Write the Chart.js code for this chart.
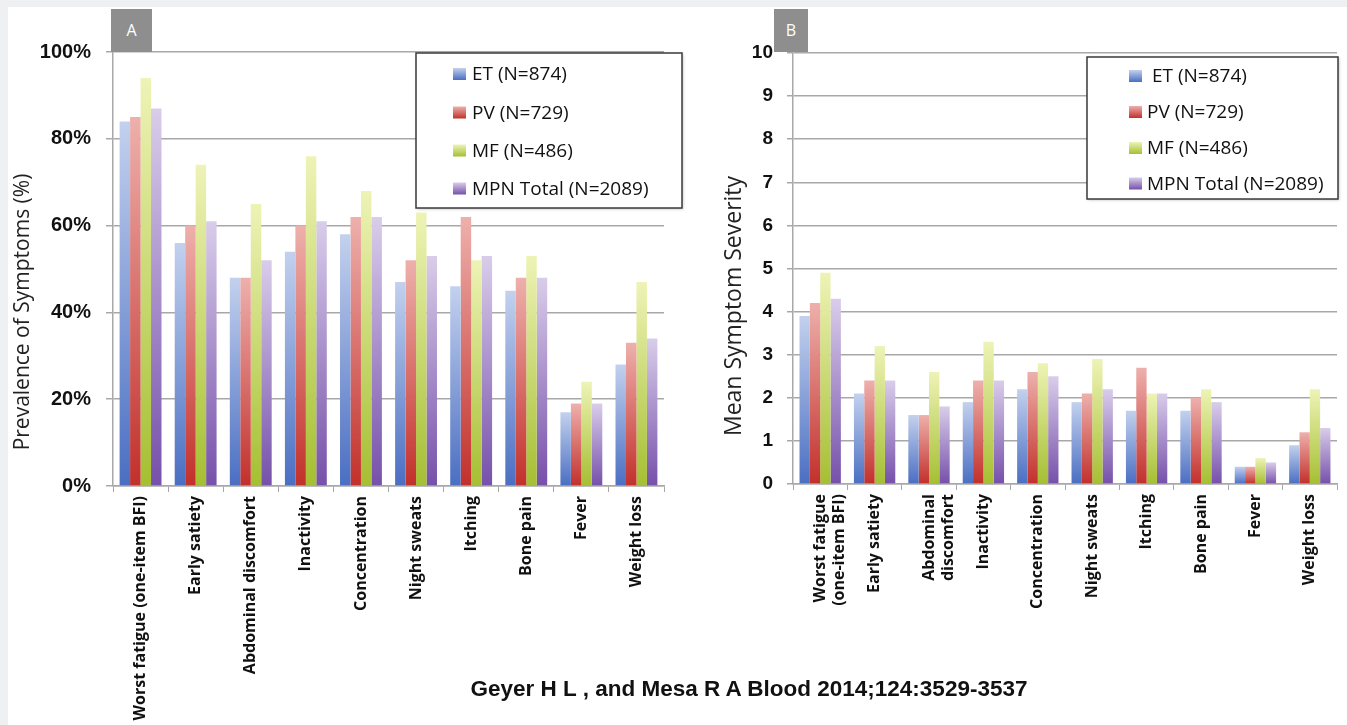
<!DOCTYPE html>
<html>
<head>
<meta charset="utf-8">
<script src="https://cdn.jsdelivr.net/npm/chart.js@4.4.0/dist/chart.umd.min.js"></script>
<style>
  html, body { margin: 0; padding: 0; width: 1347px; height: 725px; overflow: hidden; background: #eef0f2; }
  #sheet { position: absolute; left: 8px; top: 7px; right: 0; bottom: 0; background: #ffffff; }
  canvas { position: absolute; top: 0; }
  #chartA { left: 0; }
  #chartB { left: 700px; }
  .tag { position: absolute; top: 9px; height: 43px; background: #8e8e8e; color: #fff;
         font: 16px "Open Sans", sans-serif; text-align: center; line-height: 42px; }
  #tagA { left: 111px; width: 41px; }
  #tagB { left: 774px; width: 34px; }
  #caption { position: absolute; left: 0; width: 1498px; top: 676px; text-align: center;
             font: bold 22.5px "Liberation Sans", Arial, sans-serif; color: #111; }
</style>
</head>
<body>
<div id="sheet"></div>
<canvas id="chartA" width="700" height="725"></canvas>
<canvas id="chartB" width="647" height="725"></canvas>
<div class="tag" id="tagA">A</div>
<div class="tag" id="tagB">B</div>
<div id="caption">Geyer H L , and Mesa R A Blood 2014;124:3529-3537</div>

<script>
// Symptom categories (panel A single-line, panel B wrapped)
const categoriesA = ['Worst fatigue (one-item BFI)', 'Early satiety', 'Abdominal discomfort', 'Inactivity',
  'Concentration', 'Night sweats', 'Itching', 'Bone pain', 'Fever', 'Weight loss'];
const categoriesB = [['Worst fatigue', '(one-item BFI)'], 'Early satiety', ['Abdominal', 'discomfort'], 'Inactivity',
  'Concentration', 'Night sweats', 'Itching', 'Bone pain', 'Fever', 'Weight loss'];

// Patient groups
const groupsA = ['ET (N=874)', 'PV (N=729)', 'MF (N=486)', 'MPN Total (N=2089)'];
const groupsB = [' ET (N=874)', 'PV (N=729)', 'MF (N=486)', 'MPN Total (N=2089)'];

// Panel A: prevalence of symptoms (%)
const prevalenceET  = [84, 56, 48, 54, 58, 47, 46, 45, 17, 28];
const prevalencePV  = [85, 60, 48, 60, 62, 52, 62, 48, 19, 33];
const prevalenceMF  = [94, 74, 65, 76, 68, 63, 52, 53, 24, 47];
const prevalenceMPN = [87, 61, 52, 61, 62, 53, 53, 48, 19, 34];

// Panel B: mean symptom severity (0-10)
const severityET  = [3.9, 2.1, 1.6, 1.9, 2.2, 1.9, 1.7, 1.7, 0.4, 0.9];
const severityPV  = [4.2, 2.4, 1.6, 2.4, 2.6, 2.1, 2.7, 2.0, 0.4, 1.2];
const severityMF  = [4.9, 3.2, 2.6, 3.3, 2.8, 2.9, 2.1, 2.2, 0.6, 2.2];
const severityMPN = [4.3, 2.4, 1.8, 2.4, 2.5, 2.2, 2.1, 1.9, 0.5, 1.3];

// Axis ticks
const prevalenceTicks = [0, 20, 40, 60, 80, 100];
const severityTicks = [0, 1, 2, 3, 4, 5, 6, 7, 8, 9, 10];

// Bar shading: light at the top of each bar, saturated at its base
const shades = [
  { top: '#c3d1ee', bottom: '#4a6ec2', key: '#6d8dd2' },
  { top: '#eeb0ac', bottom: '#c2302b', key: '#d2504b' },
  { top: '#eef3b6', bottom: '#a5bf32', key: '#c3d85a' },
  { top: '#d9cdea', bottom: '#7650aa', key: '#9378c2' }
];

function shadedFill(i) {
  return (ctx) => {
    const chart = ctx.chart;
    const s = shades[i];
    if (!chart.chartArea || !ctx.parsed) return s.key;
    const y = chart.scales.y;
    const top = y.getPixelForValue(ctx.parsed.y);
    const base = y.getPixelForValue(0);
    if (!isFinite(top) || Math.abs(base - top) < 1) return s.key;
    const g = chart.ctx.createLinearGradient(0, top, 0, base);
    g.addColorStop(0, s.top);
    g.addColorStop(1, s.bottom);
    return g;
  };
}

function makeDatasets(names, series) {
  return series.map((data, i) => ({
    label: names[i],
    data: data,
    backgroundColor: shadedFill(i),
    borderWidth: 0,
    categoryPercentage: 0.76,
    barPercentage: 1.0
  }));
}

// Boxed legend and rotated axis title drawn on top of the plot
const panelDecor = {
  id: 'panelDecor',
  afterDraw(chart, args, opts) {
    const c = chart.ctx;
    c.save();
    // axis title
    c.fillStyle = '#222';
    c.font = opts.titleFont;
    c.textAlign = 'center';
    c.textBaseline = 'middle';
    c.translate(opts.titleX, opts.titleY);
    c.rotate(-Math.PI / 2);
    c.fillText(opts.title, 0, 0);
    c.restore();

    // legend box
    const b = opts.box;
    c.save();
    c.shadowColor = 'rgba(0,0,0,0.25)';
    c.shadowBlur = 3;
    c.shadowOffsetX = 1;
    c.shadowOffsetY = 1;
    c.fillStyle = '#fff';
    c.fillRect(b.x, b.y, b.w, b.h);
    c.restore();
    c.save();
    c.strokeStyle = '#3a3a3a';
    c.lineWidth = 1.5;
    c.strokeRect(b.x, b.y, b.w, b.h);
    c.font = opts.legendFont;
    c.textAlign = 'left';
    c.textBaseline = 'middle';
    chart.data.datasets.forEach((ds, i) => {
      const yc = opts.rows[i];
      const s = shades[i];
      const g = c.createLinearGradient(0, yc - opts.sq / 2, 0, yc + opts.sq / 2);
      g.addColorStop(0, s.top);
      g.addColorStop(1, s.bottom);
      c.fillStyle = g;
      c.fillRect(opts.sqX, yc - opts.sq / 2, opts.sqW, opts.sq);
      c.fillStyle = '#111';
      c.fillText(ds.label, opts.textX, yc + 1);
    });
    c.restore();
  }
};

function makeChart(canvasId, cfg) {
  return new Chart(document.getElementById(canvasId), {
    type: 'bar',
    data: { labels: cfg.labels, datasets: makeDatasets(cfg.names, cfg.series) },
    plugins: [panelDecor],
    options: {
      responsive: false,
      devicePixelRatio: 1,
      animation: false,
      layout: { padding: cfg.padding },
      plugins: {
        legend: { display: false },
        tooltip: { enabled: false },
        panelDecor: cfg.decor
      },
      scales: {
        x: {
          grid: { display: true, drawOnChartArea: false, drawTicks: true, tickLength: 6, color: '#a8a8a8', offset: true },
          border: { display: true, color: '#a8a8a8', width: 1.5 },
          ticks: {
            minRotation: 90, maxRotation: 90, autoSkip: false, padding: 4,
            color: '#111',
            font: { family: 'Open Sans', weight: 'bold', size: 16, lineHeight: 1.2 }
          },
          afterFit(scale) { scale.height = cfg.xHeight; }
        },
        y: {
          min: cfg.min, max: cfg.max,
          afterBuildTicks(scale) { scale.ticks = cfg.ticks.map(v => ({ value: v })); },
          grid: { color: '#a8a8a8', lineWidth: 1.5, tickLength: cfg.yTickLen, drawTicks: true },
          border: { display: true, color: '#a8a8a8', width: 1.5 },
          ticks: {
            padding: cfg.yPad,
            color: '#111',
            font: { family: 'Liberation Sans', weight: 'bold', size: cfg.yFont },
            callback: cfg.fmt
          },
          afterFit(scale) { scale.width = cfg.yWidth; }
        }
      }
    }
  });
}

makeChart('chartA', {
  labels: categoriesA,
  names: groupsA,
  series: [prevalenceET, prevalencePV, prevalenceMF, prevalenceMPN],
  ticks: prevalenceTicks,
  min: 0, max: 100,
  fmt: (v) => v + '%',
  padding: { left: 0, top: 52, right: 36, bottom: 0 },
  xHeight: 239, yWidth: 113, yTickLen: 7, yPad: 15, yFont: 20,
  decor: {
    title: 'Prevalence of Symptoms (%)', titleFont: '21px "Open Sans"', titleX: 23, titleY: 312,
    box: { x: 416, y: 53, w: 266, h: 155 },
    legendFont: '19px "Open Sans"', rows: [74, 112.5, 150.5, 188.5], sqX: 453, sqW: 13, sq: 12, textX: 472
  }
});

makeChart('chartB', {
  labels: categoriesB,
  names: groupsB,
  series: [severityET, severityPV, severityMF, severityMPN],
  ticks: severityTicks,
  min: 0, max: 10,
  fmt: (v) => String(v),
  padding: { left: 0, top: 53, right: 10, bottom: 0 },
  xHeight: 241, yWidth: 93, yTickLen: 6, yPad: 14, yFont: 19,
  decor: {
    title: 'Mean Symptom Severity', titleFont: '23px "Open Sans"', titleX: 34, titleY: 306,
    box: { x: 387, y: 57, w: 251, h: 142 },
    legendFont: '19px "Open Sans"', rows: [76, 112, 148, 183.5], sqX: 429, sqW: 13, sq: 12, textX: 447
  }
});
</script>
</body>
</html>
